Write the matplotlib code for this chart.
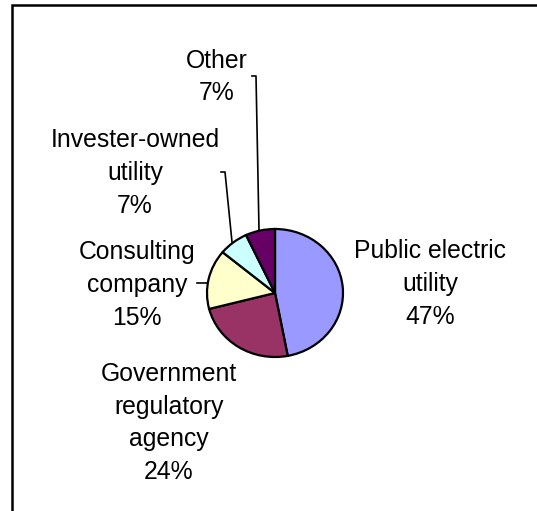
import matplotlib.pyplot as plt

labels = ["Public electric\nutility", "Government\nregulatory\nagency",
          "Consulting\ncompany", "Invester-owned\nutility", "Other"]
shares = [47, 24, 15, 7, 7]
colors = ["#9999FF", "#993366", "#FFFFCC", "#CCFFFF", "#660066"]

W, H = 537, 511
fig = plt.figure(figsize=(W / 100, H / 100), dpi=100)

# overlay in pixel units (y down) for frame, labels and leader lines
over = fig.add_axes([0, 0, 1, 1])
over.set_xlim(0, W)
over.set_ylim(H, 0)
over.axis("off")

# pie sits in its own slightly wide box
pie_ax = fig.add_axes([207 / W, (H - 357) / H, 136 / W, 128 / H])
pie_ax.pie(shares, colors=colors, startangle=90, counterclock=False,
           wedgeprops=dict(edgecolor="black", linewidth=1.6))
pie_ax.set_aspect("auto")
pie_ax.set_xlim(-1, 1)
pie_ax.set_ylim(-1, 1)

# outer frame (only left and top edges fall inside the image)
over.plot([11.5, 11.5, W], [H, 5.5, 5.5], color="black", lw=1.8,
          solid_joinstyle="miter", clip_on=False)

# leader lines
over.plot([252, 256, 259], [76, 76, 230], color="black", lw=1.2)
over.plot([221, 225, 232], [172, 172, 242], color="black", lw=1.2)
over.plot([197, 208], [283, 283], color="black", lw=1.2)

font = dict(family="Liberation Sans", fontsize=17.8, ha="center",
            va="center", multialignment="center", linespacing=1.45)
pct = [f"{s}%" for s in shares]
pos = [(430, 284), (169, 423), (137, 285), (135, 173), (217, 77)]
for lab, p, (x, y) in zip(labels, pct, pos):
    over.text(x, y, f"{lab}\n{p}", **font)

fig.savefig("out.png", dpi=100)
